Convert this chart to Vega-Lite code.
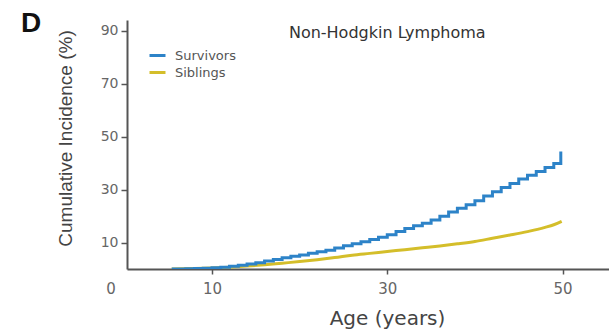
{
  "$schema": "https://vega.github.io/schema/vega-lite/v6.json",
  "width": 482,
  "height": 249,
  "autosize": {"type": "none"},
  "padding": {"left": 127, "top": 20, "right": 0, "bottom": 66},
  "background": "white",
  "config": {
    "view": {"stroke": null},
    "font": "DejaVu Sans"
  },
  "datasets": {
    "curves": [
      {"age": 5.4, "incidence": 0.0, "group": "Survivors"},
      {"age": 7, "incidence": 0.1, "group": "Survivors"},
      {"age": 8, "incidence": 0.2, "group": "Survivors"},
      {"age": 9, "incidence": 0.3, "group": "Survivors"},
      {"age": 10, "incidence": 0.5, "group": "Survivors"},
      {"age": 11, "incidence": 0.7, "group": "Survivors"},
      {"age": 12, "incidence": 1.0, "group": "Survivors"},
      {"age": 13, "incidence": 1.4, "group": "Survivors"},
      {"age": 14, "incidence": 1.9, "group": "Survivors"},
      {"age": 15, "incidence": 2.4, "group": "Survivors"},
      {"age": 16, "incidence": 3.0, "group": "Survivors"},
      {"age": 17, "incidence": 3.6, "group": "Survivors"},
      {"age": 18, "incidence": 4.2, "group": "Survivors"},
      {"age": 19, "incidence": 4.8, "group": "Survivors"},
      {"age": 20, "incidence": 5.3, "group": "Survivors"},
      {"age": 21, "incidence": 5.9, "group": "Survivors"},
      {"age": 22, "incidence": 6.5, "group": "Survivors"},
      {"age": 23, "incidence": 7.1, "group": "Survivors"},
      {"age": 24, "incidence": 7.9, "group": "Survivors"},
      {"age": 25, "incidence": 8.8, "group": "Survivors"},
      {"age": 26, "incidence": 9.5, "group": "Survivors"},
      {"age": 27, "incidence": 10.3, "group": "Survivors"},
      {"age": 28, "incidence": 11.1, "group": "Survivors"},
      {"age": 29, "incidence": 12.0, "group": "Survivors"},
      {"age": 30, "incidence": 12.9, "group": "Survivors"},
      {"age": 31, "incidence": 14.2, "group": "Survivors"},
      {"age": 32, "incidence": 15.3, "group": "Survivors"},
      {"age": 33, "incidence": 16.3, "group": "Survivors"},
      {"age": 34, "incidence": 17.3, "group": "Survivors"},
      {"age": 35, "incidence": 18.5, "group": "Survivors"},
      {"age": 36, "incidence": 19.9, "group": "Survivors"},
      {"age": 37, "incidence": 21.5, "group": "Survivors"},
      {"age": 38, "incidence": 22.9, "group": "Survivors"},
      {"age": 39, "incidence": 24.3, "group": "Survivors"},
      {"age": 40, "incidence": 25.8, "group": "Survivors"},
      {"age": 41, "incidence": 27.6, "group": "Survivors"},
      {"age": 42, "incidence": 29.2, "group": "Survivors"},
      {"age": 43, "incidence": 30.8, "group": "Survivors"},
      {"age": 44, "incidence": 32.3, "group": "Survivors"},
      {"age": 45, "incidence": 34.0, "group": "Survivors"},
      {"age": 46, "incidence": 35.4, "group": "Survivors"},
      {"age": 47, "incidence": 36.8, "group": "Survivors"},
      {"age": 48, "incidence": 38.3, "group": "Survivors"},
      {"age": 49, "incidence": 39.8, "group": "Survivors"},
      {"age": 49.8, "incidence": 44.4, "group": "Survivors"},
      {"age": 5.4, "incidence": 0.0, "group": "Siblings"},
      {"age": 8, "incidence": 0.2, "group": "Siblings"},
      {"age": 10, "incidence": 0.4, "group": "Siblings"},
      {"age": 12, "incidence": 0.7, "group": "Siblings"},
      {"age": 14, "incidence": 1.1, "group": "Siblings"},
      {"age": 16, "incidence": 1.6, "group": "Siblings"},
      {"age": 18, "incidence": 2.2, "group": "Siblings"},
      {"age": 20, "incidence": 2.8, "group": "Siblings"},
      {"age": 22, "incidence": 3.5, "group": "Siblings"},
      {"age": 24, "incidence": 4.3, "group": "Siblings"},
      {"age": 26, "incidence": 5.2, "group": "Siblings"},
      {"age": 28, "incidence": 5.9, "group": "Siblings"},
      {"age": 30, "incidence": 6.6, "group": "Siblings"},
      {"age": 32, "incidence": 7.3, "group": "Siblings"},
      {"age": 34, "incidence": 8.0, "group": "Siblings"},
      {"age": 36, "incidence": 8.7, "group": "Siblings"},
      {"age": 38, "incidence": 9.5, "group": "Siblings"},
      {"age": 40, "incidence": 10.4, "group": "Siblings"},
      {"age": 42, "incidence": 11.6, "group": "Siblings"},
      {"age": 44, "incidence": 12.8, "group": "Siblings"},
      {"age": 46, "incidence": 14.1, "group": "Siblings"},
      {"age": 48, "incidence": 15.7, "group": "Siblings"},
      {"age": 49, "incidence": 16.7, "group": "Siblings"},
      {"age": 49.9, "incidence": 18.0, "group": "Siblings"}
    ]
  },
  "layer": [
    {
      "data": {"name": "curves"},
      "transform": [{"filter": "datum.group === 'Siblings'"}],
      "mark": {"type": "line", "strokeWidth": 3, "interpolate": "monotone", "clip": true},
      "encoding": {
        "x": {
          "field": "age",
          "type": "quantitative",
          "scale": {"domain": [0.3, 55.3], "nice": false, "zero": false},
          "axis": {
            "values": [10, 30, 50],
            "grid": false,
            "domainColor": "#555555",
            "domainWidth": 2,
            "tickColor": "#555555",
            "tickWidth": 1.5,
            "tickSize": 5,
            "labelFont": "DejaVu Sans",
            "labelFontSize": 15,
            "labelColor": "#666666",
            "labelPadding": 7,
            "title": "Age (years)",
            "titleFont": "DejaVu Sans",
            "titleFontSize": 20,
            "titleFontWeight": "normal",
            "titleColor": "#444444",
            "titleAlign": "center",
            "titleBaseline": "alphabetic",
            "titleX": 260,
            "titleY": 55
          }
        },
        "y": {
          "field": "incidence",
          "type": "quantitative",
          "scale": {"domain": [0, 94], "nice": false},
          "axis": {
            "values": [10, 30, 50, 70, 90],
            "grid": false,
            "domainColor": "#555555",
            "domainWidth": 2,
            "tickColor": "#555555",
            "tickWidth": 1.5,
            "tickSize": 6,
            "labelFont": "DejaVu Sans",
            "labelFontSize": 14,
            "labelColor": "#666666",
            "labelPadding": 3,
            "title": "Cumulative Incidence (%)",
            "titleFont": "Liberation Sans",
            "titleFontSize": 19,
            "titleFontWeight": "normal",
            "titleColor": "#444444",
            "titleAngle": -90,
            "titleAlign": "center",
            "titleBaseline": "middle",
            "titleX": -62,
            "titleY": 118
          }
        },
        "color": {
          "field": "group",
          "type": "nominal",
          "scale": {"domain": ["Survivors", "Siblings"], "range": ["#2d83c8", "#d4be2a"]},
          "legend": {
            "title": null,
            "orient": "none",
            "legendX": 21,
            "legendY": 26,
            "symbolType": "stroke",
            "symbolSize": 256,
            "symbolStrokeWidth": 3,
            "labelFont": "DejaVu Sans",
            "labelFontSize": 13,
            "labelColor": "#555555",
            "labelOffset": 8,
            "rowPadding": 0,
            "padding": 0
          }
        }
      }
    },
    {
      "data": {"name": "curves"},
      "transform": [{"filter": "datum.group === 'Survivors'"}],
      "mark": {"type": "line", "strokeWidth": 3, "interpolate": "step-after", "clip": true},
      "encoding": {
        "x": {"field": "age", "type": "quantitative"},
        "y": {"field": "incidence", "type": "quantitative"},
        "color": {"field": "group", "type": "nominal"}
      }
    },
    {
      "data": {"values": [{"label": "Non-Hodgkin Lymphoma"}]},
      "mark": {"type": "text", "font": "DejaVu Sans", "fontSize": 16, "color": "#333333", "align": "center", "baseline": "middle"},
      "encoding": {
        "x": {"datum": 30},
        "y": {"datum": 89},
        "text": {"field": "label"}
      }
    },
    {
      "data": {"values": [{"label": "0"}]},
      "mark": {"type": "text", "font": "DejaVu Sans", "fontSize": 15, "color": "#666666", "align": "center", "baseline": "middle", "dx": -16, "dy": 20},
      "encoding": {
        "x": {"datum": 0.3},
        "y": {"datum": 0},
        "text": {"field": "label"}
      }
    },
    {
      "data": {"values": [{"label": "D"}]},
      "mark": {"type": "text", "font": "Liberation Sans", "fontSize": 28, "fontWeight": "bold", "color": "#111111", "align": "left", "baseline": "alphabetic", "dx": -106, "dy": 12},
      "encoding": {
        "x": {"datum": 0.3},
        "y": {"datum": 94},
        "text": {"field": "label"}
      }
    }
  ]
}
